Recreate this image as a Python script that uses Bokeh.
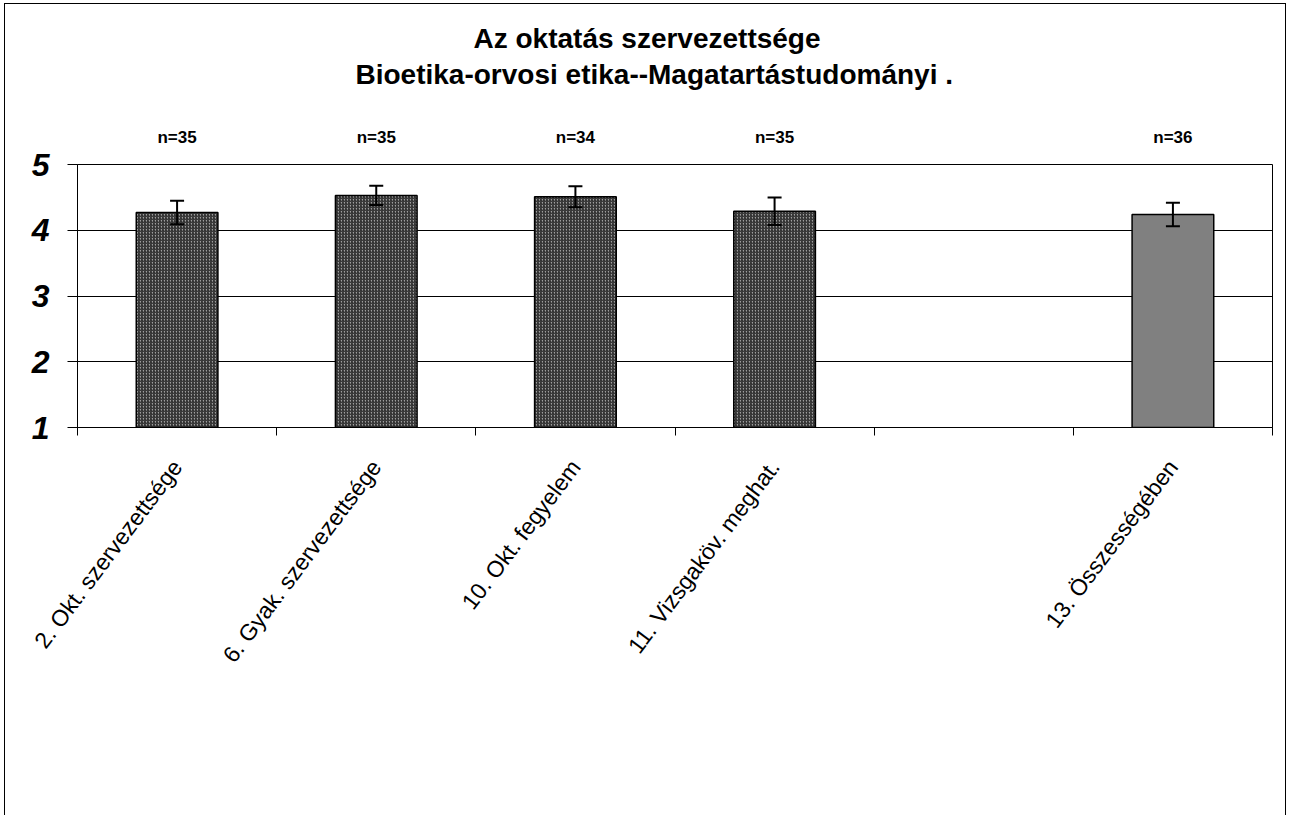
import math
from bokeh.plotting import figure
from bokeh.models import (ColumnDataSource, FixedTicker, Whisker, TeeHead,
                          LinearAxis, Title, Range1d)
from bokeh.embed import file_html
from bokeh.resources import INLINE

# ---- data ----
title_line1 = "Az oktatás szervezettsége"
title_line2 = "Bioetika-orvosi etika--Magatartástudományi ."
categories = ["2. Okt. szervezettsége", "6. Gyak. szervezettsége",
              "10. Okt. fegyelem", "11. Vizsgaköv. meghat.", "",
              "13. Összességében"]
means = [4.27, 4.53, 4.51, 4.29, None, 4.24]
errors = [0.18, 0.145, 0.16, 0.21, None, 0.18]
n_labels = ["n=35", "n=35", "n=34", "n=35", "", "n=36"]
kinds = ["item", "item", "item", "item", None, "total"]
y_ticks = [1, 2, 3, 4, 5]

FONT = "Liberation Sans"

def rows(kind):
    d = dict(x=[], top=[], upper=[], lower=[])
    for i, (m, e, k) in enumerate(zip(means, errors, kinds)):
        if m is None or k != kind:
            continue
        d["x"].append(i)
        d["top"].append(m)
        d["upper"].append(m + e)
        d["lower"].append(m - e)
    return ColumnDataSource(d)

src_items = rows("item")
src_total = rows("total")

W, H = 1282, 812
p = figure(width=W, height=H, output_backend="svg", toolbar_location=None,
           x_range=Range1d(-0.5, len(categories) - 0.5),
           y_range=Range1d(y_ticks[0], y_ticks[-1]),
           min_border_left=72, min_border_right=15,
           min_border_top=0, min_border_bottom=389)
p.styles = {"border-left": "1px solid #000", "border-top": "1px solid #000",
            "border-right": "1px solid #000",
            "margin-left": "4px", "margin-top": "3px"}
p.outline_line_color = "black"
p.outline_line_width = 1
p.background_fill_color = "white"
p.border_fill_color = "white"

# bars
p.vbar(x="x", top="top", bottom=y_ticks[0], width=0.41, source=src_items,
       fill_color="#a0a0a0", line_color="black", line_width=1.5,
       hatch_pattern="right_diagonal_line", hatch_color="#2a2a2a",
       hatch_scale=3, hatch_weight=1.2)
p.vbar(x="x", top="top", bottom=y_ticks[0], width=0.41, source=src_total,
       fill_color="#808080", line_color="black", line_width=1.5)

for src in (src_items, src_total):
    p.add_layout(Whisker(source=src, base="x", upper="upper", lower="lower",
                         line_color="black", line_width=2, level="overlay",
                         upper_head=TeeHead(size=14, line_width=2, line_color="black"),
                         lower_head=TeeHead(size=14, line_width=2, line_color="black")))

# n labels as a top axis
cat_ticker = FixedTicker(ticks=list(range(len(categories))),
                         minor_ticks=[i - 0.5 for i in range(len(categories) + 1)])
top_axis = LinearAxis(ticker=FixedTicker(ticks=list(range(len(categories))), minor_ticks=[]),
                      major_label_overrides={i: n for i, n in enumerate(n_labels)},
                      axis_line_color=None, major_tick_line_color=None,
                      minor_tick_line_color=None, major_tick_out=0, major_tick_in=0,
                      major_label_standoff=18, major_label_text_font=FONT,
                      major_label_text_font_style="bold",
                      major_label_text_font_size="17px",
                      major_label_text_color="black")
p.add_layout(top_axis, "above")

# titles (first added is closest to the frame)
p.add_layout(Title(text=" ", text_font_size="8px", standoff=22), "above")
p.add_layout(Title(text=title_line2, align="left", offset=278, text_font=FONT,
                   text_font_style="bold", text_font_size="28px",
                   text_color="black", standoff=3), "above")
p.add_layout(Title(text=title_line1, align="left", offset=396, text_font=FONT,
                   text_font_style="bold", text_font_size="28px",
                   text_color="black", standoff=4), "above")
p.add_layout(Title(text=" ", text_font_size="8px", standoff=3), "above")

# x axis
xa = p.below[0]
xa.ticker = cat_ticker
xa.major_label_overrides = {i: c for i, c in enumerate(categories)}
xa.major_label_orientation = math.radians(53)
xa.major_tick_out = 0
xa.major_tick_in = 0
xa.minor_tick_out = 8
xa.minor_tick_in = 0
xa.minor_tick_line_color = "black"
xa.axis_line_color = "black"
xa.major_label_standoff = 27
xa.major_label_text_font = FONT
xa.major_label_text_font_size = "23px"
xa.major_label_text_color = "black"

# y axis
ya = p.left[0]
ya.ticker = FixedTicker(ticks=y_ticks)
ya.major_tick_out = 10
ya.major_tick_in = 0
ya.minor_tick_out = 0
ya.minor_tick_in = 0
ya.axis_line_color = "black"
ya.major_tick_line_color = "black"
ya.major_label_standoff = 18
ya.major_label_text_font = FONT
ya.major_label_text_font_style = "bold italic"
ya.major_label_text_font_size = "32px"
ya.major_label_text_color = "black"

p.xgrid.visible = False
p.ygrid.ticker = FixedTicker(ticks=y_ticks)
p.ygrid.grid_line_color = "black"
p.ygrid.grid_line_width = 1

open("out.html", "w").write(file_html(p, INLINE))
